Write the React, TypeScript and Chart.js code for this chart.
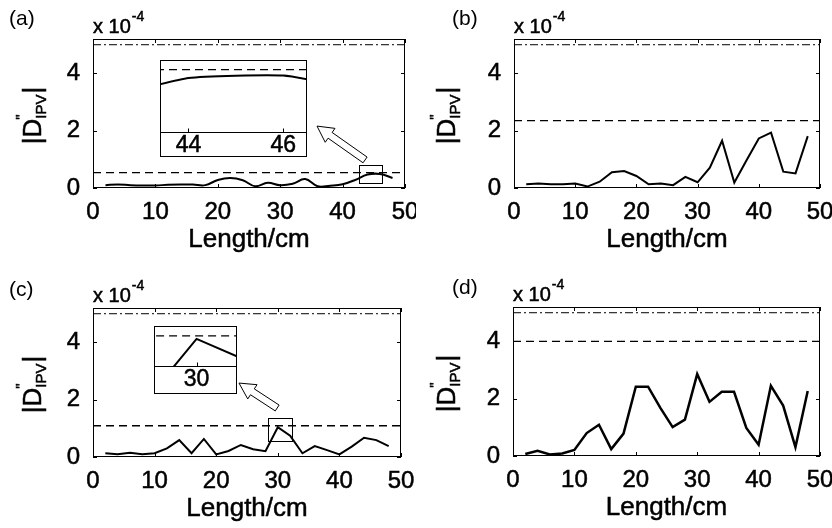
import React, { useEffect, useRef } from "react";
import { Chart, registerables } from "chart.js";

Chart.register(...registerables);

// Measurement positions along the sample (cm)
const lengthCm = [2, 4, 6, 8, 10, 12, 14, 16, 18, 20, 22, 24, 26, 28, 30, 32, 34, 36, 38, 40, 42, 44, 46, 48];

// |D''_IPV| at each position, in units of 1e-4
const seriesA = [0.1, 0.12, 0.1, 0.09, 0.09, 0.11, 0.12, 0.12, 0.1, 0.28, 0.35, 0.27, 0.06, 0.18, 0.1, 0.15, 0.31, 0.06, 0.08, 0.13, 0.28, 0.47, 0.49, 0.35];
const seriesB = [0.13, 0.16, 0.13, 0.13, 0.16, 0.05, 0.22, 0.55, 0.59, 0.42, 0.13, 0.16, 0.1, 0.39, 0.2, 0.71, 1.65, 0.19, 0.97, 1.73, 1.93, 0.57, 0.51, 1.81];
const seriesC = [0.13, 0.1, 0.15, 0.1, 0.13, 0.3, 0.59, 0.13, 0.63, 0.09, 0.21, 0.42, 0.27, 0.2, 1.04, 0.74, 0.13, 0.38, 0.24, 0.09, 0.36, 0.67, 0.59, 0.38];
const seriesD = [0.07, 0.18, 0.05, 0.09, 0.21, 0.8, 1.09, 0.24, 0.78, 2.42, 2.42, 1.68, 1.01, 1.27, 2.86, 1.89, 2.24, 2.24, 0.98, 0.39, 2.45, 1.76, 0.31, 2.27];

// Dashed threshold per panel and the common dash-dot upper limit (1e-4)
const thresholds = [0.54, 2.35, 1.09, 4.0];
const upperLimit = 5;

// Axis ranges and ticks
const xRange = [0, 50];
const yRange = [0, 5.2];
const xTickValues = [0, 10, 20, 30, 40, 50];
const yTickValues = [0, 2, 4];
const panelTags = ["(a)", "(b)", "(c)", "(d)"];

// Magnified views
const insetATicks = [44, 46];
const insetAXRange = [43.4, 46.5];
const insetAYRange = [0.02, 0.62];
const insetCTicks = [30];
const insetCXRange = [28.0, 31.9];
const insetCYRange = [0.6, 1.25];

// Regions marked in the main plots (x0, x1, y0, y1) and arrows (tail x,y -> tip x,y)
const zoomBoxA = [42.6, 46.3, 0.17, 0.8];
const arrowA = [43.6, 0.98, 35.9, 2.16];
const zoomBoxC = [28.4, 32.3, 0.56, 1.36];
const arrowC = [29.9, 1.71, 23.7, 2.58];

const FONT = "'Liberation Sans', Arial, Helvetica, sans-serif";
const TEXT_STROKE = 0.5;
const W = 416;
const H = 264;

type Area = { l: number; r: number; t: number; b: number };
type PanelProps = {
  tag: string;
  values: number[];
  threshold: number;
  tension: number;
  lineWidth: number;
  left: number;
  top: number;
  area: Area;
  tagX: number;
  tagY: number;
  titleX: number;
  zoomBox?: number[];
  arrow?: number[];
};

function toPoints(values: number[]) {
  return lengthCm.map((x, i) => ({ x, y: values[i] }));
}

function levelLine(v: number, range: number[]) {
  return [
    { x: range[0], y: v },
    { x: range[1], y: v },
  ];
}

// filled text with a hairline outline for a slightly heavier weight
function heavyText(c: CanvasRenderingContext2D, s: string, x: number, y: number) {
  c.fillText(s, x, y);
  c.lineWidth = TEXT_STROKE;
  c.strokeStyle = "#000";
  c.strokeText(s, x, y);
}

function drawHollowArrow(ctx: CanvasRenderingContext2D, x1: number, y1: number, x2: number, y2: number) {
  const dx = x2 - x1;
  const dy = y2 - y1;
  const len = Math.hypot(dx, dy);
  const ux = dx / len;
  const uy = dy / len;
  const nx = -uy;
  const ny = ux;
  const w = 3.5;
  const hw = 8.5;
  const hl = 16;
  const bx = x2 - ux * hl;
  const by = y2 - uy * hl;
  ctx.beginPath();
  ctx.moveTo(x1 + nx * w, y1 + ny * w);
  ctx.lineTo(bx + nx * w, by + ny * w);
  ctx.lineTo(bx + nx * hw, by + ny * hw);
  ctx.lineTo(x2, y2);
  ctx.lineTo(bx - nx * hw, by - ny * hw);
  ctx.lineTo(bx - nx * w, by - ny * w);
  ctx.lineTo(x1 - nx * w, y1 - ny * w);
  ctx.closePath();
  ctx.fillStyle = "#fff";
  ctx.fill();
  ctx.strokeStyle = "#000";
  ctx.lineWidth = 1;
  ctx.stroke();
}

const tickFont = (size: number) => ({ family: FONT, size });

function Panel(p: PanelProps) {
  const ref = useRef<HTMLCanvasElement>(null);
  useEffect(() => {
    const decor = {
      id: "panelDecor",
      beforeDraw(chart: any) {
        const c = chart.ctx as CanvasRenderingContext2D;
        c.save();
        c.fillStyle = "#fff";
        c.fillRect(0, 0, chart.width, chart.height);
        c.restore();
      },
      afterDraw(chart: any) {
        const c = chart.ctx as CanvasRenderingContext2D;
        const a = chart.chartArea;
        const xs = chart.scales.x;
        const ys = chart.scales.y;
        c.save();
        // frame
        c.strokeStyle = "#000";
        c.lineWidth = 1;
        c.strokeRect(a.left + 0.5, a.top + 0.5, a.right - a.left - 1, a.bottom - a.top - 1);
        // inward ticks on all four sides
        const tl = 4;
        c.beginPath();
        for (const v of xTickValues) {
          const px = Math.round(xs.getPixelForValue(v)) + 0.5;
          c.moveTo(px, a.bottom);
          c.lineTo(px, a.bottom - tl);
          c.moveTo(px, a.top);
          c.lineTo(px, a.top + tl);
        }
        for (const v of yTickValues) {
          const py = Math.round(ys.getPixelForValue(v)) + 0.5;
          c.moveTo(a.left, py);
          c.lineTo(a.left + tl, py);
          c.moveTo(a.right, py);
          c.lineTo(a.right - tl, py);
        }
        c.stroke();

        // marked region and arrow
        if (p.zoomBox) {
          const [x0, x1, y0, y1] = p.zoomBox;
          const L = Math.round(xs.getPixelForValue(x0)) + 0.5;
          const R = Math.round(xs.getPixelForValue(x1)) + 0.5;
          const T = Math.round(ys.getPixelForValue(y1)) + 0.5;
          const B = Math.round(ys.getPixelForValue(y0)) + 0.5;
          c.strokeRect(L, T, R - L, B - T);
        }
        if (p.arrow) {
          const [tx, ty, hx, hy] = p.arrow;
          drawHollowArrow(
            c,
            xs.getPixelForValue(tx),
            ys.getPixelForValue(ty),
            xs.getPixelForValue(hx),
            ys.getPixelForValue(hy)
          );
        }

        // texts
        c.fillStyle = "#000";
        c.textBaseline = "alphabetic";
        c.textAlign = "left";
        c.font = `21px ${FONT}`;
        c.fillText(p.tag, p.tagX, p.tagY);

        c.font = `20px ${FONT}`;
        const base = "x 10";
        heavyText(c, base, a.left, a.top - 6);
        const bw = c.measureText(base).width;
        c.font = `14px ${FONT}`;
        heavyText(c, "-4", a.left + bw + 1, a.top - 18);

        c.textAlign = "center";
        c.font = `26px ${FONT}`;
        heavyText(c, "Length/cm", (a.left + a.right) / 2, a.bottom + 59);

        // rotated |D''_IPV|
        c.translate(p.titleX, (a.top + a.bottom) / 2 + 2);
        c.rotate(-Math.PI / 2);
        c.textAlign = "left";
        const big = `26px ${FONT}`;
        const small = `15px ${FONT}`;
        c.font = big;
        const wBar = c.measureText("|").width;
        const wD = c.measureText("D").width;
        c.font = small;
        const wSub = c.measureText("IPV").width;
        const total = wBar * 2 + wD + wSub + 1;
        let cx = -total / 2;
        c.font = big;
        heavyText(c, "|D", cx, 0);
        cx += wBar + wD;
        c.font = small;
        heavyText(c, "IPV", cx, 5);
        heavyText(c, '"', cx - 1, -15);
        cx += wSub + 1;
        c.font = big;
        heavyText(c, "|", cx, 0);
        c.restore();
      },
    };

    const area = p.area;
    const chart = new Chart(ref.current!, {
      type: "line",
      data: {
        datasets: [
          {
            data: toPoints(p.values),
            borderColor: "#000",
            borderWidth: p.lineWidth,
            pointRadius: 0,
            tension: p.tension,
            fill: false,
          },
          {
            data: levelLine(p.threshold, xRange),
            borderColor: "#000",
            borderWidth: 1.3,
            borderDash: [8, 5],
            pointRadius: 0,
            fill: false,
          },
          {
            data: levelLine(upperLimit, xRange),
            borderColor: "#000",
            borderWidth: 1,
            borderDash: [8, 3, 2, 3],
            pointRadius: 0,
            fill: false,
          },
        ],
      },
      options: {
        animation: false,
        responsive: false,
        events: [],
        layout: { padding: { left: 0, top: area.t, right: W - area.r, bottom: 0 } },
        plugins: { legend: { display: false }, tooltip: { enabled: false } },
        scales: {
          x: {
            type: "linear",
            min: xRange[0],
            max: xRange[1],
            grid: { display: false, drawTicks: false },
            border: { display: false },
            afterBuildTicks: (s: any) => {
              s.ticks = xTickValues.map((v) => ({ value: v }));
            },
            afterFit: (s: any) => {
              s.height = H - area.b;
              s.paddingLeft = 0;
              s.paddingRight = 0;
            },
            ticks: {
              font: tickFont(24),
              color: "#000",
              textStrokeColor: "#000",
              textStrokeWidth: TEXT_STROKE,
              padding: 10,
              autoSkip: false,
              maxRotation: 0,
            },
          },
          y: {
            type: "linear",
            min: yRange[0],
            max: yRange[1],
            grid: { display: false, drawTicks: false },
            border: { display: false },
            afterBuildTicks: (s: any) => {
              s.ticks = yTickValues.map((v) => ({ value: v }));
            },
            afterFit: (s: any) => {
              s.width = area.l;
              s.paddingTop = 0;
              s.paddingBottom = 0;
            },
            ticks: {
              font: tickFont(24),
              color: "#000",
              textStrokeColor: "#000",
              textStrokeWidth: TEXT_STROKE,
              padding: 13,
            },
          },
        },
      },
      plugins: [decor],
    } as any);
    return () => chart.destroy();
  }, []);
  return (
    <canvas
      ref={ref}
      width={W}
      height={H}
      style={{ position: "absolute", left: p.left, top: p.top, width: W, height: H }}
    />
  );
}

type InsetProps = {
  values: number[];
  threshold: number;
  tension: number;
  ticks: number[];
  xr: number[];
  yr: number[];
  left: number;
  top: number;
  w: number;
  h: number;
  plotH: number;
};

function Inset(p: InsetProps) {
  const ref = useRef<HTMLCanvasElement>(null);
  useEffect(() => {
    const decor = {
      id: "insetDecor",
      beforeDraw(chart: any) {
        const c = chart.ctx as CanvasRenderingContext2D;
        c.save();
        c.fillStyle = "#fff";
        c.fillRect(0, 0, chart.width, chart.height);
        c.restore();
      },
      afterDraw(chart: any) {
        const c = chart.ctx as CanvasRenderingContext2D;
        const a = chart.chartArea;
        const xs = chart.scales.x;
        c.save();
        c.strokeStyle = "#000";
        c.lineWidth = 1;
        c.strokeRect(0.5, 0.5, chart.width - 1, chart.height - 1);
        c.beginPath();
        const by = Math.round(a.bottom) + 0.5;
        c.moveTo(0, by);
        c.lineTo(chart.width, by);
        for (const v of p.ticks) {
          const px = Math.round(xs.getPixelForValue(v)) + 0.5;
          c.moveTo(px, by);
          c.lineTo(px, by - 4);
        }
        c.stroke();
        c.restore();
      },
    };
    const chart = new Chart(ref.current!, {
      type: "line",
      data: {
        datasets: [
          {
            data: toPoints(p.values),
            borderColor: "#000",
            borderWidth: 2,
            pointRadius: 0,
            tension: p.tension,
            fill: false,
            clip: 0,
          },
          {
            data: levelLine(p.threshold, xRange),
            borderColor: "#000",
            borderWidth: 1.3,
            borderDash: [8, 5],
            pointRadius: 0,
            fill: false,
            clip: 0,
          },
        ],
      },
      options: {
        animation: false,
        responsive: false,
        events: [],
        layout: { padding: 0 },
        plugins: { legend: { display: false }, tooltip: { enabled: false } },
        scales: {
          x: {
            type: "linear",
            min: p.xr[0],
            max: p.xr[1],
            grid: { display: false, drawTicks: false },
            border: { display: false },
            afterBuildTicks: (s: any) => {
              s.ticks = p.ticks.map((v) => ({ value: v }));
            },
            afterFit: (s: any) => {
              s.height = p.h - p.plotH;
              s.paddingLeft = 0;
              s.paddingRight = 0;
            },
            ticks: {
              font: tickFont(23),
              color: "#000",
              textStrokeColor: "#000",
              textStrokeWidth: TEXT_STROKE,
              padding: 0,
              autoSkip: false,
              maxRotation: 0,
            },
          },
          y: {
            type: "linear",
            display: false,
            min: p.yr[0],
            max: p.yr[1],
          },
        },
      },
      plugins: [decor],
    } as any);
    return () => chart.destroy();
  }, []);
  return (
    <canvas
      ref={ref}
      width={p.w}
      height={p.h}
      style={{ position: "absolute", left: p.left, top: p.top, width: p.w, height: p.h }}
    />
  );
}

export default function App() {
  return (
    <div
      style={{
        position: "fixed",
        left: 0,
        top: 0,
        width: 832,
        height: 528,
        background: "#fff",
        overflow: "hidden",
      }}
    >
      <Panel
        tag={panelTags[0]}
        values={seriesA}
        threshold={thresholds[0]}
        tension={0.4}
        lineWidth={2}
        left={0}
        top={0}
        area={{ l: 93, r: 405, t: 39, b: 188 }}
        tagX={9}
        tagY={25}
        titleX={41}
        zoomBox={zoomBoxA}
        arrow={arrowA}
      />
      <Panel
        tag={panelTags[1]}
        values={seriesB}
        threshold={thresholds[1]}
        tension={0}
        lineWidth={2}
        left={416}
        top={0}
        area={{ l: 98, r: 404, t: 39, b: 188 }}
        tagX={36}
        tagY={25}
        titleX={39}
      />
      <Panel
        tag={panelTags[2]}
        values={seriesC}
        threshold={thresholds[2]}
        tension={0}
        lineWidth={2}
        left={0}
        top={264}
        area={{ l: 93, r: 401, t: 44, b: 193 }}
        tagX={9}
        tagY={32}
        titleX={41}
        zoomBox={zoomBoxC}
        arrow={arrowC}
      />
      <Panel
        tag={panelTags[3]}
        values={seriesD}
        threshold={thresholds[3]}
        tension={0}
        lineWidth={2.5}
        left={416}
        top={264}
        area={{ l: 97, r: 404, t: 43, b: 192 }}
        tagX={36}
        tagY={30}
        titleX={39}
      />
      <Inset
        values={seriesA}
        threshold={thresholds[0]}
        tension={0.15}
        ticks={insetATicks}
        xr={insetAXRange}
        yr={insetAYRange}
        left={160}
        top={60}
        w={147}
        h={97}
        plotH={72}
      />
      <Inset
        values={seriesC}
        threshold={thresholds[2]}
        tension={0}
        ticks={insetCTicks}
        xr={insetCXRange}
        yr={insetCYRange}
        left={154}
        top={326}
        w={83}
        h={68}
        plotH={40}
      />
    </div>
  );
}
